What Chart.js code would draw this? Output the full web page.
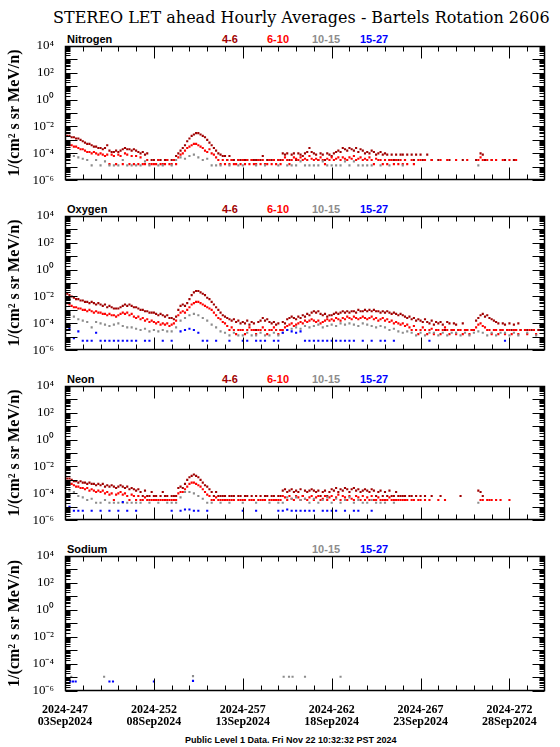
<!DOCTYPE html>
<html><head><meta charset="utf-8">
<script src="https://cdn.jsdelivr.net/npm/chart.js@4.4.1/dist/chart.umd.min.js"></script>
<style>
html,body{margin:0;padding:0;background:#fff;width:560px;height:747px;overflow:hidden;position:relative;}
.t{position:absolute;white-space:nowrap;line-height:1;}
#title{left:53px;top:8px;font:16px "DejaVu Serif",serif;color:#000;}
.lab{font:bold 11px "Liberation Sans",sans-serif;}
#foot{left:185px;top:735px;font:bold 9px "Liberation Sans",sans-serif;color:#000;}
canvas{position:absolute;left:0;}
</style></head><body>
<div id="title" class="t">STEREO LET ahead Hourly Averages - Bartels Rotation 2606</div>
<div id="foot" class="t">Public Level 1 Data. Fri Nov 22 10:32:32 PST 2024</div>
<script>
// ---------- axis / label data ----------
const DAY0 = 247, DAY_END = 274;
const X_TICK_DAYS = [247, 252, 257, 262, 267, 272];
const X_TICK_DOY = ['2024-247', '2024-252', '2024-257', '2024-262', '2024-267', '2024-272'];
const X_TICK_DATE = ['03Sep2024', '08Sep2024', '13Sep2024', '18Sep2024', '23Sep2024', '28Sep2024'];
const Y_TICK_VALUES = [1e-6, 1e-4, 1e-2, 1e0, 1e2, 1e4];
const Y_TICK_LABELS = ['10⁻⁶', '10⁻⁴', '10⁻²', '10⁰', '10²', '10⁴'];
const Y_TITLE = '1/(cm² s sr MeV/n)';
const ELEMENTS = ['Nitrogen', 'Oxygen', 'Neon', 'Sodium'];
const BANDS = ['4-6', '6-10', '10-15', '15-27'];

// ---------- series: log10 of intensity, 3-hour steps (4-6, 6-10) and 6-hour steps (10-15, 15-27) ----------
const nitrogen_4_6 = [
-2.6,-2.7,-2.7,-2.8,-2.8,-2.9,-2.9,-3.0,
-3.1,-3.2,-3.3,-3.3,-3.4,-3.5,-3.5,-3.6,
-3.6,-3.7,-3.6,-3.4,-3.8,-3.9,-3.9,-3.8,
-3.9,-3.8,-3.7,-3.6,-3.7,-3.7,-3.8,-3.7,
-3.8,-3.9,-4.0,-3.9,-4.1,-4.0,null,-4.5,
-4.5,null,-4.5,-4.5,null,-4.5,-4.5,null,
-4.5,-4.5,-4.2,-4.0,-3.8,-3.6,-3.4,-3.1,
-2.9,-2.7,-2.6,-2.5,-2.5,-2.6,-2.7,-2.8,
-3.0,-3.2,-3.4,-3.6,-3.8,-4.0,-4.1,-4.2,
-4.2,-4.5,-4.2,-4.5,-4.5,null,-4.5,-4.5,
-4.5,-4.5,-4.5,null,-4.5,-4.5,-4.5,-4.5,
-4.5,-4.2,null,-4.5,-4.5,-4.5,-4.5,null,
-4.5,-4.5,-4.0,-4.1,-4.0,-4.5,-4.1,-4.0,
-4.5,-4.0,-4.1,-4.2,-4.0,-3.9,-3.6,-3.9,
-4.0,-4.1,-4.5,-4.0,-4.1,-4.5,-4.0,-4.1,
-4.2,-4.0,-3.9,-3.8,-3.9,-3.6,-3.7,-3.8,
-3.6,-3.7,-3.8,-3.6,-3.9,-3.7,-3.8,-4.0,
-3.9,-4.0,-3.8,-3.9,-4.1,-4.0,-3.9,-4.1,
-4.0,-4.1,-4.5,-4.1,-4.5,-4.1,-4.5,-4.1,
-4.1,-4.5,-4.1,null,-4.1,-4.5,-4.1,null,
-4.1,-4.5,null,-4.1,null,-4.5,null,null,
-4.5,null,null,null,null,-4.5,null,null,
null,null,null,-4.5,null,null,null,null,
null,-4.5,null,-4.0,-4.1,-4.5,null,null,
-4.5,null,null,null,null,null,-4.5,null,
null,null,-4.5,null,null,null,null,null,
null,null,null,null,null,null,null,null];
const nitrogen_6_10 = [
-3.2,-3.3,-3.4,-3.4,-3.5,-3.5,-3.6,-3.7,
-3.7,-3.8,-3.9,-3.9,-4.0,-3.9,-4.0,-4.1,
-4.0,-4.1,-4.2,-4.1,-4.8,-4.1,-4.2,-4.8,
-4.1,-4.2,-4.8,-4.0,-4.1,-4.8,-4.2,-4.8,
-4.2,-4.8,-4.3,-4.8,-4.8,-4.5,-4.8,-4.8,
-4.8,-4.8,-4.5,-4.8,-4.8,-4.8,-4.5,-4.8,
-4.8,-4.5,-4.8,-4.3,-4.1,-4.0,-3.8,-3.6,
-3.5,-3.4,-3.3,-3.3,-3.4,-3.5,-3.6,-3.8,
-3.9,-3.7,-4.0,-4.1,-4.3,-4.5,-4.8,-4.5,
-4.8,-4.5,-4.8,-4.5,-4.8,-4.8,-4.5,-4.8,
-4.5,-4.8,-4.5,-4.8,-4.5,-4.8,-4.8,-4.5,
-4.8,-4.5,-4.8,-4.8,-4.5,-4.8,-4.5,-4.8,
-4.5,-4.8,-4.5,-4.3,-4.5,-4.8,-4.5,-4.3,
-4.4,-4.5,-4.3,-4.5,-4.4,-4.5,-4.2,-4.4,
-4.5,-4.4,-4.5,-4.3,-4.5,-4.8,-4.4,-4.5,
-4.3,-4.5,-4.4,-4.3,-4.5,-4.3,-4.4,-4.5,
-4.3,-4.4,-4.2,-4.5,-4.4,-4.3,-4.5,-4.4,
-4.5,-4.3,-4.5,-4.8,-4.4,-4.5,-4.5,-4.8,
-4.5,-4.8,-4.5,-4.5,-4.8,-4.5,-4.8,-4.5,
-4.8,-4.5,-4.8,null,-4.5,-4.8,null,-4.5,
-4.5,null,-4.5,null,null,-4.5,null,null,
null,-4.5,null,null,-4.5,null,null,null,
-4.5,null,null,null,null,-4.5,null,null,
null,null,-4.5,-4.3,-4.5,null,-4.5,null,
-4.5,null,-4.5,null,null,-4.5,null,null,
-4.5,null,null,-4.5,null,null,null,null,
null,null,null,null,null,null,null,null];
const nitrogen_10_15 = [
-3.9,-4.1,-4.2,-4.3, -4.4,-4.5,-4.9,-4.5, -4.9,-4.6,-4.9,-4.9, -4.9,-4.5,-4.9,-4.9,
-4.9,-4.9,-4.6,-4.9, null,-4.9,-4.9,null, -4.9,-4.5,-4.3,-4.4, -4.2,-4.1,-4.3,-4.5,
-4.4,-4.9,-4.9,-4.9, null,-4.9,null,-4.9, -4.9,null,null,-4.9, null,-4.9,null,null,
-4.9,null,-4.9,-4.9, -4.9,-4.6,-4.9,-4.9, -4.9,-4.9,-4.6,-4.9, -4.9,-4.9,-4.9,-4.6,
-4.9,-4.6,-4.9,-4.9, -4.9,-4.9,null,-4.9, null,-4.9,null,null, -4.9,null,null,null,
null,null,null,null, null,null,null,null, null,null,null,null, null,-4.9,null,null,
null,null,null,null, null,null,null,null, null,null,null,null];
const nitrogen_15_27 = [];

const oxygen_4_6 = [
-1.8,-1.8,-1.9,-2.0,-2.1,-2.2,-2.2,-2.3,
-2.3,-2.4,-2.4,-2.5,-2.4,-2.5,-2.6,-2.5,
-2.6,-2.7,-2.6,-2.8,-2.7,-2.8,-2.9,-2.9,
-2.9,-2.8,-2.7,-2.6,-2.7,-2.6,-2.7,-2.8,
-2.8,-2.9,-3.0,-3.0,-3.1,-3.1,-3.2,-3.2,
-3.2,-3.3,-3.4,-3.3,-3.4,-3.5,-3.4,-3.6,
-3.6,-3.7,-3.5,-3.0,-2.7,-2.6,-2.7,-2.5,
-2.2,-1.9,-1.7,-1.6,-1.6,-1.7,-1.8,-1.9,
-2.1,-2.2,-2.4,-2.6,-2.8,-3.0,-3.2,-3.4,
-3.5,-3.6,-3.7,-3.8,-3.7,-3.9,-3.8,-4.0,
-3.9,-4.0,-3.8,-4.1,-3.9,-4.0,-4.5,-3.9,
-3.8,-3.6,-3.8,-3.7,-3.9,-4.0,-3.9,-4.1,
-4.0,-4.5,-3.9,-4.0,-3.7,-3.6,-3.5,-3.6,
-3.7,-3.5,-3.6,-3.4,-3.5,-3.3,-3.4,-3.2,
-3.1,-3.2,-3.1,-3.3,-3.4,-3.3,-3.5,-3.4,
-3.4,-3.3,-3.2,-3.3,-3.2,-3.1,-3.2,-3.1,
-3.2,-3.1,-3.1,-3.2,-3.0,-3.1,-3.1,-3.0,
-3.1,-3.0,-3.1,-3.0,-3.1,-3.1,-3.2,-3.1,
-3.2,-3.1,-3.2,-3.3,-3.2,-3.3,-3.4,-3.3,
-3.4,-3.5,-3.6,-3.5,-3.7,-3.6,-3.8,-3.7,
-3.8,-3.9,-3.7,-3.9,-4.0,-3.8,-4.1,-3.9,
-4.0,-3.9,-4.1,-4.5,-3.9,-4.0,-4.5,-4.0,
-4.1,-4.5,null,-4.0,-4.5,-4.5,null,-4.5,
-4.5,-3.8,-3.6,-3.4,-3.3,-3.5,-3.4,-3.6,
-3.7,-3.8,-3.9,-4.0,-4.5,-4.0,-4.1,-4.5,
-4.0,-4.5,-4.1,-4.5,-4.0,-4.5,null,-4.5,
-4.5,null,-4.5,-4.5,null,-4.5,-4.5,-4.5];
const oxygen_6_10 = [
-2.4,-2.5,-2.6,-2.7,-2.8,-2.8,-2.9,-2.9,
-3.0,-3.0,-3.1,-3.0,-3.1,-3.2,-3.1,-3.2,
-3.2,-3.3,-3.3,-3.4,-3.3,-3.4,-3.4,-3.5,
-3.4,-3.3,-3.2,-3.3,-3.2,-3.4,-3.3,-3.5,
-3.6,-3.5,-3.7,-3.6,-3.8,-3.7,-3.9,-3.8,
-3.9,-4.0,-3.9,-4.1,-4.0,-4.1,-4.0,-4.2,
-4.1,-4.0,-3.8,-3.4,-3.2,-3.1,-3.2,-3.0,
-2.8,-2.6,-2.5,-2.4,-2.4,-2.5,-2.6,-2.7,
-2.8,-2.9,-3.0,-3.2,-3.4,-3.6,-3.7,-3.9,
-4.0,-4.2,-4.5,-4.3,-4.5,-4.8,-4.5,-4.5,
-4.5,-4.8,-4.5,-4.3,-4.5,-4.5,-4.8,-4.5,
-4.5,-4.3,-4.5,-4.8,-4.5,-4.5,-4.3,-4.5,
-4.8,-4.5,-4.5,-4.3,-4.2,-4.1,-4.0,-4.2,
-4.1,-4.0,-3.9,-4.0,-3.8,-3.9,-3.8,-3.7,
-3.8,-3.9,-3.8,-4.0,-3.9,-3.8,-3.7,-3.8,
-3.7,-3.8,-3.6,-3.7,-3.8,-3.6,-3.7,-3.5,
-3.6,-3.7,-3.5,-3.6,-3.7,-3.6,-3.5,-3.6,
-3.7,-3.6,-3.5,-3.7,-3.6,-3.8,-3.7,-3.6,
-3.8,-3.7,-3.9,-3.8,-4.0,-3.9,-4.0,-4.1,
-4.0,-4.2,-4.1,-4.3,-4.5,-4.2,-4.5,-4.8,
-4.5,-4.3,-4.5,-4.8,-4.5,-4.4,-4.8,-4.5,
-4.5,-4.8,-4.5,-4.3,-4.5,-4.8,-4.5,-4.5,
-4.8,-4.5,-4.5,-4.8,-4.5,-4.5,-4.8,-4.5,
-4.5,-4.3,-4.1,-4.0,-4.2,-4.3,-4.5,-4.5,
-4.8,-4.5,-4.5,-4.8,-4.5,-4.5,-4.8,-4.5,
-4.5,-4.8,-4.5,-4.5,-4.8,-4.5,null,-4.5,
-4.8,-4.5,null,-4.5,-4.8,null,-4.5,-4.5];
const oxygen_10_15 = [
-3.3,-3.4,-3.5,-3.7, -3.8,-3.9,-4.3,-3.9, -4.0,-4.1,-4.2,-4.1, -4.0,-4.2,-4.3,-4.3,
-4.4,-4.5,-4.4,-4.6, -4.5,-4.6,-4.5,-4.6, -4.6,-4.3,-3.8,-3.6, -3.4,-3.3,-3.4,-3.6,
-3.8,-4.1,-4.3,-4.6, -4.7,-4.9,-4.7,-4.9, -4.9,-4.7,-4.9,-4.9, -4.7,-4.9,-4.9,-4.7,
-4.9,-4.7,-4.5,-4.4, -4.3,-4.4,-4.2,-4.3, -4.2,-4.1,-4.3,-4.2, -4.1,-4.2,-4.0,-4.1,
-4.0,-4.1,-4.2,-4.0, -4.1,-4.2,-4.3,-4.2, -4.3,-4.5,-4.4,-4.6, -4.7,-4.6,-4.7,-4.9,
-4.7,-4.9,-4.7,-4.7, -4.9,-4.7,-4.9,-4.7, -4.7,-4.9,-4.7,-4.9, -4.7,-4.6,-4.7,-4.9,
-4.7,-4.9,-4.7,-4.7, -4.9,-4.7,-4.9,null, -4.7,null,-4.9,null];
const oxygen_15_27 = [
-4.2,-4.4,-5.1,-4.6, -5.3,-5.3,-5.3,-4.7, -5.3,-5.3,-5.3,-5.3, -5.3,-5.3,-5.3,-5.3,
-5.3,null,-5.3,-5.3, null,null,-5.3,null, -5.3,null,-4.6,-4.5, -4.4,-4.5,-4.7,-5.3,
-5.3,null,-5.3,null, null,-5.3,null,null, -5.3,-5.3,null,-5.3, -5.3,-5.3,null,-5.3,
-5.3,-4.7,-4.5,-4.6, -4.7,-4.6,-5.3,-5.3, -5.3,-5.3,-5.3,-5.3, -5.3,-5.3,-5.3,-5.3,
-5.3,-5.3,null,-5.3, null,-5.3,null,-5.3, -5.3,null,-5.3,null, null,null,null,null,
null,null,-5.3,null, null,null,null,null, null,null,null,null, null,null,null,null,
null,null,null,-5.3, null,null,null,null, null,null,null,null];

const neon_4_6 = [
-2.8,-2.9,-2.9,-3.0,-3.1,-3.1,-3.2,-3.1,
-3.2,-3.2,-3.3,-3.2,-3.3,-3.3,-3.4,-3.3,
-3.4,-3.3,-3.5,-3.4,-3.5,-3.4,-3.5,-3.6,
-3.5,-3.4,-3.5,-3.6,-3.5,-3.7,-3.6,-3.7,
-3.8,-3.7,-3.9,-4.2,-3.8,-4.2,-4.2,-3.9,
-4.2,-4.2,null,-4.2,-3.9,-4.2,-4.2,null,
-4.2,-4.2,-4.2,-3.6,-3.5,-3.6,-3.3,-3.0,
-2.8,-2.7,-2.6,-2.7,-2.8,-3.0,-3.2,-3.4,
-3.5,-3.7,-3.9,-4.2,-3.9,-4.2,-4.2,-4.2,
-4.2,null,-4.2,-4.2,-4.2,null,-4.2,-4.2,
null,-4.2,-4.2,null,-4.2,null,-4.2,null,
-4.2,null,-4.2,-4.2,null,-4.2,-4.2,null,
-4.2,-4.2,-3.8,-3.7,-3.9,-3.8,-3.7,-3.9,
-3.8,-3.9,-3.7,-4.2,-3.8,-3.9,-3.8,-3.7,
-3.8,-3.9,-3.8,-4.2,-3.9,-3.8,-4.2,-3.9,
-3.7,-3.8,-3.6,-3.9,-3.7,-3.8,-3.6,-3.7,
-3.9,-3.7,-3.6,-3.8,-3.7,-3.9,-3.8,-3.7,
-3.8,-3.9,-3.7,-3.8,-4.2,-3.9,-3.8,-4.2,
-3.9,-4.2,-3.8,-4.2,-4.2,-3.9,-4.2,-4.2,
-4.2,-4.2,null,-4.2,-4.2,null,-4.2,null,
-4.2,null,-4.2,null,null,-4.2,null,null,
null,-4.2,null,null,null,null,null,null,
null,null,-4.2,null,null,null,null,null,
null,null,-3.8,-3.9,-4.2,null,null,null,
null,null,null,null,null,null,null,null,
null,null,null,null,null,null,null,null,
null,null,null,null,null,null,null,null];
const neon_6_10 = [
-3.1,-3.2,-3.3,-3.3,-3.4,-3.5,-3.5,-3.6,
-3.6,-3.7,-3.6,-3.8,-3.7,-3.8,-3.9,-3.8,
-3.9,-3.8,-4.0,-3.9,-4.1,-4.0,-4.5,-4.1,
-4.0,-3.9,-4.1,-4.0,-4.2,-4.5,-4.1,-4.2,
-4.5,-4.2,-4.5,-4.5,-4.3,-4.5,-4.5,-4.5,
-4.5,-4.5,-4.5,-4.5,-4.5,-4.5,-4.5,-4.5,
-4.5,-4.5,-4.5,-4.0,-3.9,-3.9,-3.7,-3.5,
-3.3,-3.2,-3.2,-3.3,-3.4,-3.5,-3.7,-3.9,
-4.1,-4.2,-4.5,-4.5,-4.3,-4.5,-4.5,-4.5,
-4.5,-4.5,-4.5,-4.5,-4.5,null,-4.5,-4.5,
-4.5,-4.5,null,-4.5,-4.5,-4.5,null,-4.5,
-4.5,-4.5,-4.5,null,-4.5,-4.5,-4.5,-4.5,
-4.5,-4.5,-4.2,-4.3,-4.5,-4.2,-4.4,-4.5,
-4.2,-4.3,-4.5,-4.2,-4.4,-4.5,-4.3,-4.2,
-4.5,-4.3,-4.2,-4.5,-4.4,-4.2,-4.5,-4.3,
-4.2,-4.5,-4.3,-4.1,-4.5,-4.2,-4.3,-4.5,
-4.2,-4.4,-4.5,-4.2,-4.3,-4.5,-4.2,-4.5,
-4.3,-4.5,-4.2,-4.5,-4.5,-4.3,-4.5,-4.5,
-4.5,-4.5,-4.3,-4.5,-4.5,-4.5,-4.5,-4.5,
-4.5,-4.5,-4.5,null,-4.5,-4.5,null,-4.5,
-4.5,null,-4.5,null,-4.5,null,null,null,
-4.5,null,null,-4.5,null,null,null,null,
null,null,null,null,null,null,null,null,
null,null,null,-4.5,-4.5,null,-4.5,-4.5,
-4.5,null,-4.5,null,-4.5,null,null,null,
-4.5,null,null,null,null,null,null,null,
null,null,null,null,null,null,null,null];
const neon_10_15 = [
-3.6,-3.8,-3.9,-4.2, -4.3,-4.5,-4.4,-4.7, -4.7,-4.5,-4.7,-4.7, -4.7,-4.7,-4.7,-4.7,
-4.7,-4.7,null,-4.7, null,-4.7,null,-4.7, -4.7,-4.7,-4.3,-3.9, -3.9,-4.0,-4.2,-4.4,
-4.7,-4.7,null,-4.7, null,-4.7,null,null, -4.7,null,null,-4.7, null,null,-4.7,null,
-4.7,-4.7,-4.3,-4.4, -4.3,-4.5,-4.4,-4.7, -4.4,-4.7,-4.5,-4.3, -4.7,-4.4,-4.7,-4.5,
-4.3,-4.7,-4.5,-4.7, -4.7,-4.5,-4.7,-4.7, -4.7,null,-4.7,null, null,null,null,null,
null,null,null,null, null,null,null,null, null,null,null,null, null,-4.7,null,null,
null,null,null,null, null,null,null,null, null,null,null,null];
const neon_15_27 = [
-4.8,-5.0,-5.3,-5.3, -5.3,null,-5.3,null, -5.3,null,-5.3,null, -5.3,-4.65,-5.3,null,
-5.3,null,null,null, null,null,null,null, -5.3,null,-5.3,-5.2, -5.2,-5.3,-5.3,null,
-5.3,null,null,null, null,null,null,null, -5.3,null,null,-5.3, null,null,null,null,
-5.3,-5.3,-5.2,-5.3, -5.3,-5.3,-5.3,-5.3, -5.3,null,-5.3,-5.3, -5.3,-5.3,null,-5.3,
null,-5.3,-5.3,null, null,-5.3,null,null, null,null,null,null, null,null,null,null,
null,null,null,null, null,null,null,null, null,null,null,null, null,null,null,null,
null,null,null,null, null,null,null,null, null,null,null,null];

// Sodium: only isolated points (day of year, log10 intensity)
const sodium_10_15_days = [247.35, 249.2, 254.2, 259.3, 259.6, 259.8, 260.5, 262.5];
const sodium_10_15 = [-4.95, -4.95, -4.9, -4.95, -4.95, -4.95, -4.95, -4.95];
const sodium_15_27_days = [247.3, 247.45, 247.6, 249.5, 249.7, 252.0, 254.2];
const sodium_15_27 = [-5.3, -5.3, -5.3, -5.3, -5.3, -5.3, -5.25];

// ---------- styling / layout ----------
const BAND_COLORS = ['#a00000', '#ff0000', '#8c8c8c', '#0000ff'];
const PANEL_TOPS = [45, 215, 385, 555];
const PLOT_H = 136;
const LEGEND_X = [222, 267, 312, 360];

function stepped(logs, stepHours) {
  const pts = [];
  logs.forEach((v, i) => { if (v !== null) pts.push({x: DAY0 + i * stepHours / 24, y: Math.pow(10, v)}); });
  return pts;
}
function listed(days, logs) {
  return days.map((d, i) => ({x: d, y: Math.pow(10, logs[i])}));
}

const PANELS = [
  {bands: [0,1,2,3], data: [stepped(nitrogen_4_6,3), stepped(nitrogen_6_10,3), stepped(nitrogen_10_15,6), stepped(nitrogen_15_27,6)]},
  {bands: [0,1,2,3], data: [stepped(oxygen_4_6,3), stepped(oxygen_6_10,3), stepped(oxygen_10_15,6), stepped(oxygen_15_27,6)]},
  {bands: [0,1,2,3], data: [stepped(neon_4_6,3), stepped(neon_6_10,3), stepped(neon_10_15,6), stepped(neon_15_27,6)]},
  {bands: [2,3], data: [listed(sodium_10_15_days, sodium_10_15), listed(sodium_15_27_days, sodium_15_27)]}
];

const frameTicks = {
  id: 'frameTicks',
  afterDraw(chart) {
    const {ctx, chartArea: a, scales: {x, y}} = chart;
    const L = Math.round(a.left) + 0.5, R = Math.round(a.right) - 0.5;
    const T = Math.round(a.top) + 0.5, B = Math.round(a.bottom) - 0.5;
    ctx.save();
    ctx.strokeStyle = '#000';
    ctx.lineWidth = 1;
    ctx.beginPath();
    for (let d = DAY0 + 1; d < DAY_END; d++) {
      const px = Math.round(x.getPixelForValue(d)) + 0.5;
      const len = X_TICK_DAYS.includes(d) ? 12 : 5;
      ctx.moveTo(px, B); ctx.lineTo(px, B - len);
      ctx.moveTo(px, T); ctx.lineTo(px, T + len);
    }
    for (let e = -6; e < 4; e++) {
      for (let m = 1; m < 10; m++) {
        const py = Math.round(y.getPixelForValue(m * Math.pow(10, e))) + 0.5;
        const len = m === 1 ? 12 : 5;
        ctx.moveTo(L, py); ctx.lineTo(L + len, py);
        ctx.moveTo(R, py); ctx.lineTo(R - len, py);
      }
    }
    ctx.stroke();
    ctx.lineWidth = 1.5;
    ctx.strokeRect(L, T, R - L, B - T);
    ctx.restore();
  }
};

PANELS.forEach((p, idx) => {
  const last = idx === PANELS.length - 1;
  const extra = last ? 50 : 10;
  const top = PANEL_TOPS[idx];

  // labels above the panel
  const nm = document.createElement('div');
  nm.className = 't lab'; nm.textContent = ELEMENTS[idx];
  nm.style.left = '67px'; nm.style.top = (top - 12) + 'px'; nm.style.color = '#000';
  document.body.appendChild(nm);
  p.bands.forEach(b => {
    const el = document.createElement('div');
    el.className = 't lab'; el.textContent = BANDS[b];
    el.style.left = LEGEND_X[b] + 'px'; el.style.top = (top - 12) + 'px'; el.style.color = BAND_COLORS[b];
    document.body.appendChild(el);
  });

  const canvas = document.createElement('canvas');
  canvas.width = 560; canvas.height = PLOT_H + 10 + extra;
  canvas.style.width = '560px'; canvas.style.height = canvas.height + 'px';
  canvas.style.top = (top - 10) + 'px';
  document.body.appendChild(canvas);

  new Chart(canvas, {
    type: 'scatter',
    data: {
      datasets: p.bands.map((b, k) => ({
        label: BANDS[b],
        data: p.data[k],
        backgroundColor: BAND_COLORS[b],
        borderWidth: 0,
        pointStyle: 'rect',
        pointRadius: 1.5,
        pointHoverRadius: 1.5,
        order: 4 - b
      }))
    },
    options: {
      responsive: false,
      animation: false,
      events: [],
      devicePixelRatio: 1,
      layout: {padding: {top: 10, right: 15, left: 0, bottom: 0}},
      plugins: {legend: {display: false}, tooltip: {enabled: false}, title: {display: false}},
      scales: {
        x: {
          type: 'linear', min: DAY0, max: DAY_END,
          grid: {display: false}, border: {display: false},
          afterBuildTicks: s => { s.ticks = X_TICK_DAYS.map(v => ({value: v})); },
          afterFit: s => { s.height = extra; },
          ticks: {
            display: last, padding: 5, maxRotation: 0, autoSkip: false, color: '#000',
            font: {family: 'Liberation Serif', size: 12, weight: 'bold', lineHeight: 1.0},
            callback: (v, i) => [X_TICK_DOY[i], X_TICK_DATE[i]]
          }
        },
        y: {
          type: 'logarithmic', min: 1e-6, max: 1e4,
          grid: {display: false}, border: {display: false},
          afterBuildTicks: s => { s.ticks = Y_TICK_VALUES.map(v => ({value: v})); },
          afterFit: s => { s.width = 65; },
          ticks: {
            padding: 3, color: '#000', autoSkip: false,
            font: {family: 'Liberation Serif', size: 13},
            callback: (v, i) => Y_TICK_LABELS[i]
          },
          title: {
            display: true, text: Y_TITLE, color: '#000',
            font: {family: 'Liberation Serif', size: 16, weight: 'bold'},
            padding: {top: 5, bottom: 0}
          }
        }
      }
    },
    plugins: [frameTicks]
  });
});
</script>
</body></html>
